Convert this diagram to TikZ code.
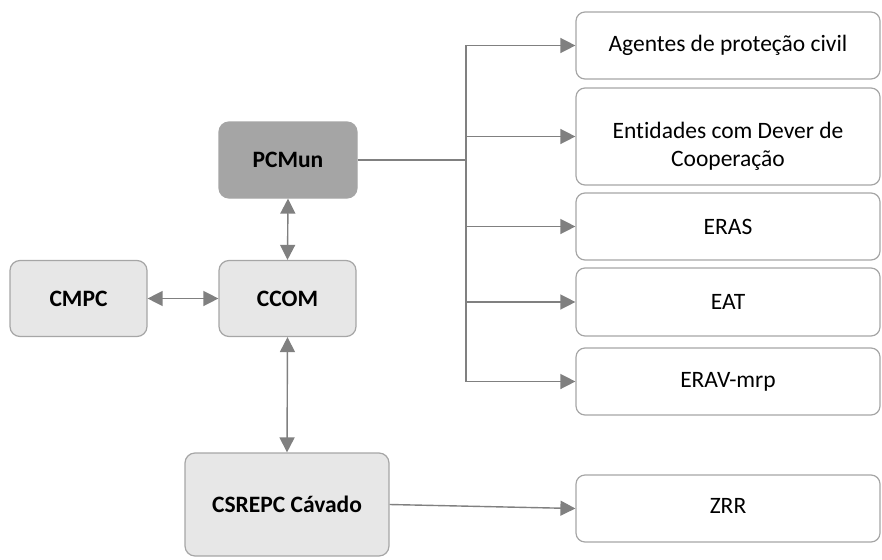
\documentclass[tikz,border=0pt]{standalone}
\usepackage{fontspec}
\setmainfont[Ligatures=NoCommon]{Carlito}
\usetikzlibrary{arrows.meta}
\definecolor{linegray}{HTML}{808080}
\definecolor{framegray}{HTML}{A6A6A6}
\definecolor{lightfill}{HTML}{E7E7E7}
\definecolor{darkfill}{HTML}{A5A5A5}

\begin{document}
\begin{tikzpicture}[x=1pt, y=-1pt,
  unitbox/.style={draw=framegray, line width=1.2pt, rounded corners=10pt, inner sep=0pt,
    fill=lightfill, font=\fontsize{23.5}{28}\selectfont\bfseries},
  agentbox/.style={draw=framegray, line width=1.2pt, rounded corners=9pt, inner sep=0pt,
    fill=white, minimum width=304pt, align=center, font=\fontsize{23.5}{28}\selectfont},
  link/.style={draw=linegray, line width=1.4pt},
  tip/.style={link, -{Triangle[length=15pt, width=15pt]}},
  both/.style={link, {Triangle[length=15pt, width=15pt]}-{Triangle[length=15pt, width=15pt]}}]
  \useasboundingbox (0,0) rectangle (882,559);
  % estruturas de coordenação
  \node[unitbox, fill=darkfill, draw=darkfill, minimum width=138pt, minimum height=76pt] (pcmun) at (288,160) {PCMun};
  \node[unitbox, minimum width=137pt, minimum height=76pt] (cmpc) at (78.5,298.5) {CMPC};
  \node[unitbox, minimum width=137pt, minimum height=76pt] (ccom) at (287.5,298.5) {CCOM};
  \node[unitbox, minimum width=204pt, minimum height=103pt] (csrepc) at (287,504.5) {CSREPC Cávado};
  % entidades à direita
  \node[agentbox, minimum height=67pt] (agentes) at (728,45.5) {Agentes de proteção civil};
  \node[agentbox, minimum height=97pt] (entidades) at (728,136.5) {\raisebox{-10pt}[\height][\depth]{\begin{tabular}{@{}c@{}}Entidades com Dever de\\Cooperação\end{tabular}}};
  \node[agentbox, minimum height=67pt] (eras) at (728,226.5) {ERAS};
  \node[agentbox, minimum height=68pt] (eat) at (728,302) {EAT};
  \node[agentbox, minimum height=67pt] (erav) at (728,381.5) {ERAV-mrp};
  \node[agentbox, minimum height=67pt] (zrr) at (728,508.5) {\raisebox{3pt}[\height][\depth]{ZRR}};
  % ligações
  \coordinate (bus) at (466,160);
  \draw[link] (pcmun.east) -- (bus);
  \foreach \target in {agentes, entidades, eras, eat, erav}
    \draw[tip] (bus) |- (\target.west);
  \draw[both] (pcmun.south) -- (ccom.north);
  \draw[both] (cmpc.east) -- (ccom.west);
  \draw[both] (ccom.south) -- (csrepc.north);
  \draw[tip] (csrepc.east) -- (zrr.west);
\end{tikzpicture}
\end{document}
